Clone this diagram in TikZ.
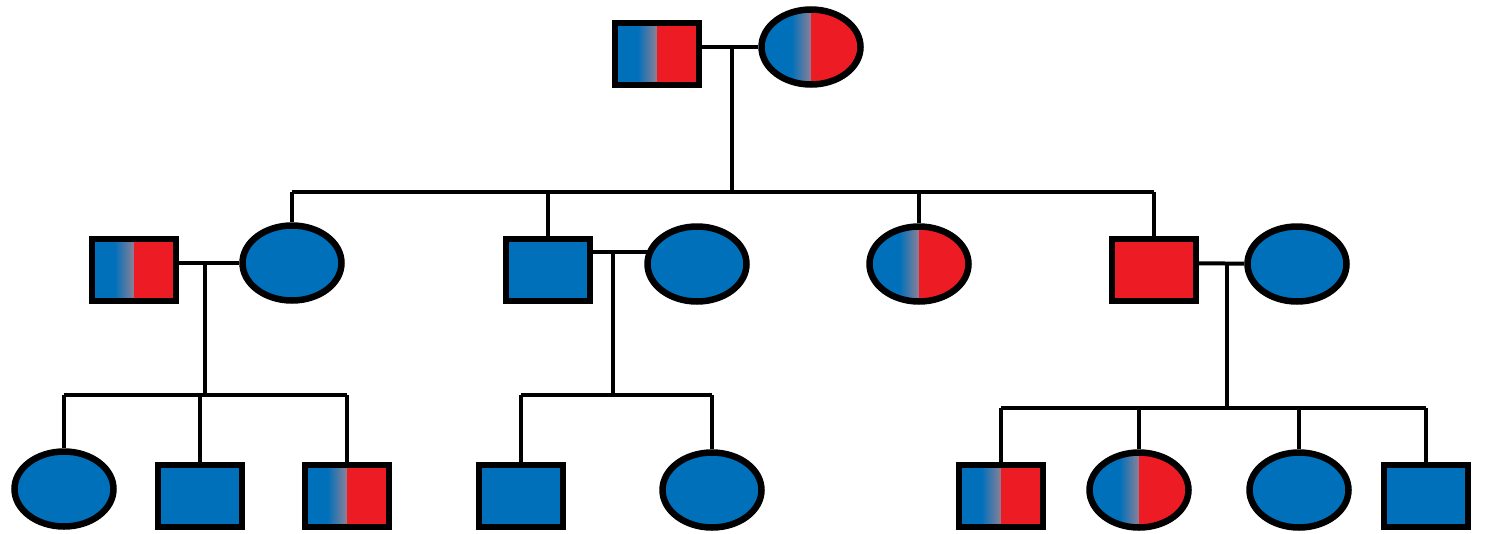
\documentclass[tikz,border=0pt]{standalone}
\usetikzlibrary{shapes.geometric,backgrounds}
\definecolor{pblue}{RGB}{0,112,186}
\definecolor{pred}{RGB}{237,28,36}
\definecolor{pmid}{RGB}{140,128,150}
\tikzset{
  person/.style={draw=black, line width=6.5pt},
  male/.style={person, rectangle, minimum width=84pt, minimum height=62pt, inner sep=0pt},
  female/.style={person, ellipse, minimum width=99pt, minimum height=75pt, inner sep=0pt},
  aff/.style={fill=pblue},
  red/.style={fill=pred},
  half/.style={path picture={
      \fill[pblue] (path picture bounding box.south west) rectangle ([xshift=-19pt]path picture bounding box.north);
      \shade[left color=pblue, right color=pmid] ([xshift=-19.5pt]path picture bounding box.south) rectangle (path picture bounding box.north);
      \fill[pred] (path picture bounding box.south) rectangle (path picture bounding box.north east);
  }},
  link/.style={draw=black, line width=4pt}
}
\begin{document}
\begin{tikzpicture}[x=1pt,y=-1pt]
\useasboundingbox (0,0) rectangle (1499,533);
% generation I
\node[male,half] (F0) at (657,54) {};
\node[female,half] (M0) at (811,47) {};
\coordinate (u0) at (732,47);
\coordinate (b0) at (732,192);
% generation II
\node[male,half] (A) at (134,270) {};
\node[female,aff] (B) at (292,263) {};
\node[male,aff] (C) at (548,270) {};
\node[female,aff] (D) at (697,264) {};
\node[female,half] (E) at (919,264) {};
\node[male,red] (G) at (1154,270) {};
\node[female,aff] (H) at (1297,264) {};
\coordinate (u1) at (205,263);
\coordinate (b1) at (205,395);
\coordinate (u2) at (613,252);
\coordinate (b2) at (613,395);
\coordinate (u3) at (1227,263);
\coordinate (b3) at (1227,408);
% generation III
\node[female,aff] (I1) at (64,489) {};
\node[male,aff] (I2) at (200,496) {};
\node[male,half] (I3) at (347,496) {};
\node[male,aff] (J1) at (521,496) {};
\node[female,aff] (J2) at (712,490) {};
\node[male,half] (K1) at (1001,496) {};
\node[female,half] (K2) at (1139,490) {};
\node[female,aff] (K3) at (1299,490) {};
\node[male,aff] (K4) at (1426,496) {};
\begin{scope}[on background layer]
  % marriages
  \draw[link] (F0 |- u0) -- (M0);
  \draw[link] (A |- u1) -- (B);
  \draw[link] (C |- u2) -- (D |- u2);
  \draw[link] (G |- u3) -- (H);
  % descent lines
  \draw[link] (u0) -- (b0);
  \draw[link] (u1) -- (b1);
  \draw[link] (u2) -- (b2);
  \draw[link] (u3) -- (b3);
  % sibship lines
  \draw[link] (B |- b0) -- (G |- b0);
  \draw[link] (I1 |- b1) -- (I3 |- b1);
  \draw[link] (J1 |- b2) -- (J2 |- b2);
  \draw[link] (K1 |- b3) -- (K4 |- b3);
  % drops to children
  \foreach \c in {B,C,E,G}{\draw[link] (\c |- b0) -- (\c);}
  \foreach \c in {I1,I2,I3}{\draw[link] (\c |- b1) -- (\c);}
  \foreach \c in {J1,J2}{\draw[link] (\c |- b2) -- (\c);}
  \foreach \c in {K1,K2,K3,K4}{\draw[link] (\c |- b3) -- (\c);}
\end{scope}
\end{tikzpicture}
\end{document}
